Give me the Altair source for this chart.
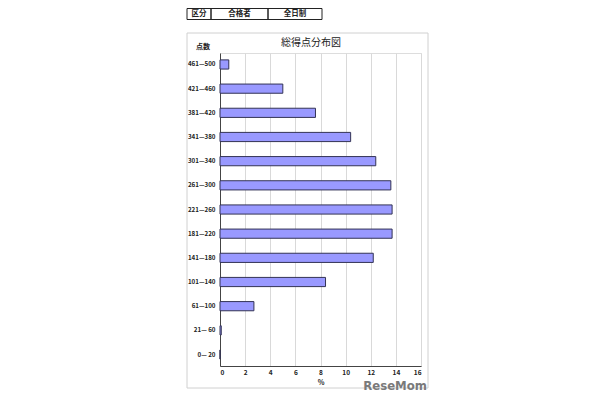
import altair as alt
import pandas as pd

categories = ["461—500", "421—460", "381—420", "341—380", "301—340", "261—300",
              "221—260", "181—220", "141—180", "101—140", "61—100", "21— 60", "0— 20"]
values = [0.7, 5.0, 7.6, 10.4, 12.4, 13.6, 13.7, 13.7, 12.2, 8.4, 2.7, 0.1, 0.0]
header_labels = ["区分", "合格者", "全日制"]
x_ticks = [0, 2, 4, 6, 8, 10, 12, 14, 16]

df = pd.DataFrame({"range": categories, "pct": values})
one = pd.DataFrame({"k": [0]})
JP = "Noto Sans CJK JP"

W, H = 201, 313

def rect(x, x2, y, y2, stroke="#333", sw=1):
    return alt.Chart(one).mark_rect(fillOpacity=0, stroke=stroke, strokeWidth=sw).encode(
        x=alt.value(x), x2=alt.value(x2), y=alt.value(y), y2=alt.value(y2))

def text(t, x, y, size=7, weight="bold", color="#222", align="center", font=JP):
    return alt.Chart(one).mark_text(text=t, font=font, fontSize=size, fontWeight=weight,
                                    color=color, align=align, baseline="middle").encode(
        x=alt.value(x), y=alt.value(y))

panel = rect(-33, 208, -20, 335, stroke="#d0d0d0")

hx = [-33, -9, 48, 102]
header = []
for i, lab in enumerate(header_labels):
    header.append(rect(hx[i], hx[i + 1], -44.5, -33.5, stroke="#222"))
    header.append(text(lab, (hx[i] + hx[i + 1]) / 2, -39, size=7.5))

bars = alt.Chart(df).mark_bar(fill="#9999FF", stroke="#333355", strokeWidth=1).encode(
    x=alt.X("pct:Q", scale=alt.Scale(domain=[0, 16], nice=False),
            axis=alt.Axis(values=x_ticks, title="%", grid=True, gridColor="#d9d9d9",
                          domainColor="#444", ticks=False, labelPadding=3,
                          labelFont=JP, labelFontSize=6.5, labelFontWeight="bold",
                          labelColor="#222", titleFont=JP, titleFontSize=7,
                          titleFontWeight="bold", titleColor="#222", titlePadding=3)),
    y=alt.Y("range:N", sort=categories,
            scale=alt.Scale(paddingInner=0.62, paddingOuter=0.285),
            axis=alt.Axis(title=None, ticks=False, domainColor="#444", labelPadding=5,
                          labelFont=JP, labelFontSize=6.2, labelFontWeight="bold",
                          labelColor="#222")),
)

title = text("総得点分布図", 91, -10, size=10, weight="normal", color="#222")
pts = text("点数", -17, -6, size=7)
wm = text("ReseMom", 207, 333, size=13, weight="bold", color="#7a7a7a", align="right",
          font="'DejaVu Sans Condensed', 'DejaVu Sans', sans-serif")

chart = alt.layer(panel, *header, title, pts, bars, wm).properties(
    width=W, height=H,
    autosize=alt.AutoSizeParams(type="none"),
    padding={"left": 212, "top": 45, "right": 180, "bottom": 31},
).configure_view(stroke="#999", strokeWidth=1).configure(background="white")

chart.save("out.html", embed_options={"renderer": "svg", "actions": False})
